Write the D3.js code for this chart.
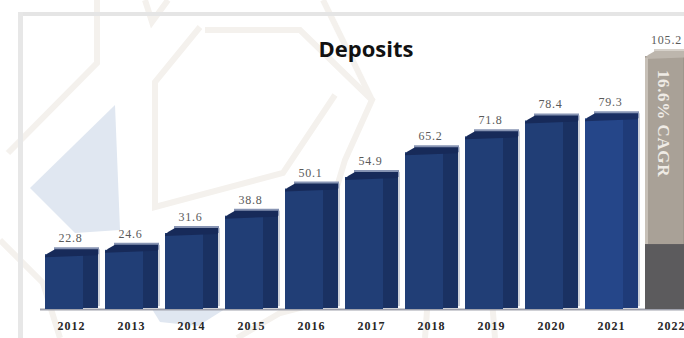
<!DOCTYPE html>
<html>
<head>
<meta charset="utf-8">
<script src="https://cdn.jsdelivr.net/npm/d3@7/dist/d3.min.js"></script>
<style>
  html, body { margin: 0; padding: 0; background: #fff; overflow: hidden; }
  svg { display: block; }
</style>
</head>
<body>
<svg id="chart" width="684" height="338"></svg>
<script>
// ---- data ----
const years = ["2012", "2013", "2014", "2015", "2016", "2017", "2018", "2019", "2020", "2021", "2022"];
const deposits = [22.8, 24.6, 31.6, 38.8, 50.1, 54.9, 65.2, 71.8, 78.4, 79.3, 105.2];
const currentYear = "2021";
const forecastYear = "2022";
const forecastBase = 27;          // dark lower block of the forecast bar
const cagrLabel = "16.6% CAGR";
const chartTitle = "Deposits";

// ---- layout ----
const W = 684, H = 338;
const svg = d3.select("#chart");

const x = d3.scaleBand()
  .domain(years)
  .range([41.5, 701.5])
  .paddingInner(7 / 60)
  .paddingOuter(3.5 / 60);

const y = d3.scaleLinear()
  .domain([0, 105.2])
  .range([309, 56]);

const fmt = d3.format(".1f");

// ---- faint decorative backdrop ----
const deco = svg.append("g").attr("class", "backdrop");
const decoLines = [
  [[8, 153], [97, 63], [97, 0]],
  [[145, 0], [152, 22], [168, 0]],
  [[200, 27], [155, 82], [155, 207], [283, 173], [335, 95]],
  [[205, 30], [300, 30], [372, 100], [345, 160], [330, 210]],
  [[323, 0], [372, 100]],
  [[0, 240], [43, 283], [60, 338]],
  [[237, 338], [280, 313], [330, 300]],
  [[430, 270], [425, 338]],
  [[490, 275], [495, 338]]
];
deco.selectAll("path.hex")
  .data(decoLines)
  .join("path")
  .attr("class", "hex")
  .attr("d", d3.line())
  .attr("fill", "none")
  .attr("stroke", "#f4f1ed")
  .attr("stroke-width", 6)
  .attr("stroke-linejoin", "miter");

const decoShapes = [
  [[30, 188], [115, 105], [120, 230], [75, 233]],
  [[152, 309], [225, 309], [198, 326], [160, 322]]
];
deco.selectAll("path.tint")
  .data(decoShapes)
  .join("path")
  .attr("class", "tint")
  .attr("d", d => d3.line()(d) + "Z")
  .attr("fill", "#e0e7f1");

// frame lines
svg.append("rect").attr("x", 18).attr("y", 12).attr("width", W - 18).attr("height", 4).attr("fill", "#e5e5e5");
svg.append("rect").attr("x", 18).attr("y", 12).attr("width", 5).attr("height", H - 12).attr("fill", "#e7e7e7");

// ---- title ----
svg.append("text")
  .attr("x", 366)
  .attr("y", 57)
  .attr("text-anchor", "middle")
  .attr("font-family", "'Open Sans', 'Liberation Sans', sans-serif")
  .attr("font-weight", 700)
  .attr("font-size", 22)
  .attr("fill", "#111")
  .text(chartTitle);

// ---- baseline ----
svg.append("line")
  .attr("x1", 40).attr("x2", W)
  .attr("y1", y(0) + 0.5).attr("y2", y(0) + 0.5)
  .attr("stroke", "#9fa1ac")
  .attr("stroke-width", 2);

// ---- bars ----
const palettes = {
  normal:   { front: "#213e76", side: "#1a3162", top: "#172a59", rim: "#8794b3", edge: "#cdd1da" },
  current:  { front: "#254689", side: "#1f3b78", top: "#1a2f63", rim: "#8896b6", edge: "#cdd1da" },
  forecast: { front: "#a9a197", side: "#9e968c", top: "#bdb6ad", rim: "#d6d1ca", edge: "#e2dfdb" }
};

const rows = years.map((yr, i) => ({ year: yr, value: deposits[i] }));

const bars = svg.append("g").attr("class", "bars")
  .selectAll("g.bar")
  .data(rows)
  .join("g")
  .attr("class", "bar");

bars.each(function (d) {
  const g = d3.select(this);
  const kind = d.year === forecastYear ? "forecast" : (d.year === currentYear ? "current" : "normal");
  const p = palettes[kind];
  const x0 = x(d.year);
  const w = x.bandwidth();
  const fw = Math.round(w * 0.72);
  const top = y(d.value);
  const base = y(0);
  const lift = 5;

  // pale edge on the right
  g.append("rect")
    .attr("x", x0 + w).attr("y", top - lift)
    .attr("width", 2).attr("height", base - top + lift - 3)
    .attr("fill", p.edge);

  // rim behind the top face
  g.append("path")
    .attr("d", d3.line()([[x0 + 9, top - lift - 2], [x0 + w + 1, top - lift - 2], [x0 + w + 1, top], [x0 + 9, top]]) + "Z")
    .attr("fill", p.rim);

  // front and side faces
  g.append("rect")
    .attr("x", x0).attr("y", top)
    .attr("width", fw).attr("height", base - top)
    .attr("fill", p.front);
  g.append("rect")
    .attr("x", x0 + fw).attr("y", top)
    .attr("width", w - fw).attr("height", base - top - 1)
    .attr("fill", p.side);

  // top face
  g.append("path")
    .attr("d", d3.line()([[x0, top + 2], [x0 + 3, top - 1], [x0 + 10, top - lift], [x0 + w, top - lift], [x0 + w, top + 1], [x0, top + 3]]) + "Z")
    .attr("fill", p.top);

  if (kind === "forecast") {
    // lighter strip on the left edge
    g.append("rect")
      .attr("x", x0).attr("y", top + 2)
      .attr("width", 3).attr("height", y(forecastBase) - top - 2)
      .attr("fill", "#c7c0b7");
    // dark lower block
    g.append("rect")
      .attr("x", x0).attr("y", y(forecastBase))
      .attr("width", w).attr("height", base - y(forecastBase))
      .attr("fill", "#5c5b5d");
    // growth note, reading downwards
    g.append("text")
      .attr("transform", `translate(${x0 + fw / 2 - 0.5},${top + 14}) rotate(90)`)
      .attr("text-anchor", "start")
      .attr("dominant-baseline", "central")
      .attr("font-family", "'Liberation Serif', 'DejaVu Serif', serif")
      .attr("font-weight", 700)
      .attr("font-size", 17)
      .attr("letter-spacing", 0.6)
      .attr("fill", "#efebe5")
      .text(cagrLabel);
  }

  // value label (kept inside the right edge for the last bar)
  const cx = x0 + w / 2 - 1;
  const label = g.append("text")
    .attr("y", top - 12)
    .attr("font-family", "'Liberation Serif', 'DejaVu Serif', serif")
    .attr("font-size", 12)
    .attr("letter-spacing", 0.8)
    .attr("fill", "#5a5a5a")
    .text(fmt(d.value));
  if (cx + 16 > W) {
    label.attr("x", W - 2).attr("text-anchor", "end");
  } else {
    label.attr("x", cx).attr("text-anchor", "middle");
  }
});

// ---- year axis ----
const xAxis = d3.axisBottom(x).tickSize(0).tickPadding(0);
const axisG = svg.append("g")
  .attr("transform", `translate(0,${y(0) + 21})`)
  .call(xAxis);
axisG.select(".domain").remove();
axisG.selectAll("text")
  .attr("font-family", "'Liberation Serif', 'DejaVu Serif', serif")
  .attr("font-weight", 700)
  .attr("font-size", 12)
  .attr("letter-spacing", 1)
  .attr("fill", "#262626")
  .attr("dy", 0);
</script>
</body>
</html>
